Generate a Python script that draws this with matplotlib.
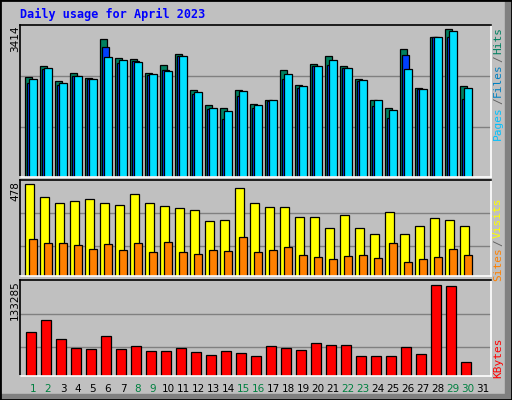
import matplotlib
matplotlib.use("Agg")
import matplotlib.pyplot as plt
from matplotlib.patches import Rectangle
import numpy as np

days = list(range(1, 31))
day_labels = [str(d) for d in range(1, 32)]
weekend = {1, 2, 8, 9, 15, 16, 22, 23, 29, 30}

# top panel values
hits = [2300, 2560, 2210, 2400, 2280, 3180, 2750, 2730, 2400, 2590, 2840, 2010, 1660, 1590, 2010, 1690,
        1780, 2470, 2120, 2610, 2790, 2560, 2260, 1780, 1590, 2960, 2060, 3220, 3414, 2090]
files = [2160, 2480, 2120, 2330, 2260, 3000, 2620, 2670, 2360, 2460, 2800, 1910, 1570, 1340, 1860, 1600,
         1750, 2270, 2050, 2570, 2590, 2520, 2220, 1640, 1360, 2820, 2030, 3220, 3240, 1800]
pages = [2260, 2520, 2170, 2330, 2250, 2760, 2690, 2660, 2380, 2450, 2790, 1960, 1590, 1520, 1990, 1660,
         1770, 2380, 2090, 2560, 2710, 2520, 2240, 1770, 1540, 2500, 2030, 3220, 3370, 2060]
visits = [478, 410, 379, 389, 400, 379, 368, 425, 379, 363, 353, 343, 286, 291, 457, 379,
          358, 358, 306, 306, 249, 317, 249, 218, 332, 218, 260, 301, 291, 260]
sites = [192, 171, 171, 161, 140, 166, 135, 171, 125, 176, 125, 114, 135, 130, 203, 125,
         135, 151, 109, 99, 88, 104, 109, 94, 171, 73, 88, 99, 140, 109]
kbytes = [63700, 81200, 53400, 40400, 38900, 57900, 38900, 43300, 35900, 35900, 40400, 34500, 30100, 35900,
          33000, 28600, 43300, 40400, 37400, 47700, 44800, 44800, 28600, 28600, 28600, 41800, 31600, 133285, 131800, 19800]

BG = "#C0C0C0"
W, H = 512, 400
fig = plt.figure(figsize=(W / 100, H / 100), dpi=100, facecolor=BG)

def px_axes(x0, y0, x1, y1):
    return fig.add_axes([x0 / W, 1 - y1 / H, (x1 - x0) / W, (y1 - y0) / H])

# frame / bevel
fig.patches.append(Rectangle((505 / W, 0), 7 / W, 1, transform=fig.transFigure, color="#808080", zorder=0))
fig.patches.append(Rectangle((0, 0), 1, 6 / H, transform=fig.transFigure, color="#808080", zorder=0))
fig.patches.append(Rectangle((0, 0), 1, 1, transform=fig.transFigure, fill=False, ec="black", lw=2, zorder=0))

d = np.array(days, dtype=float)
x0 = 1 - 5 / 15
xl = (x0, x0 + 471 / 15)

def style(ax, top, grids):
    ax.set_facecolor(BG)
    ax.set_xlim(*xl)
    ax.set_ylim(0, top)
    for g in grids:
        ax.axhline(g, color="#808080", lw=1, zorder=1)
    ax.set_xticks([]); ax.set_yticks([])
    for s in ("top", "left"):
        ax.spines[s].set_color("black")
    for s in ("bottom", "right"):
        ax.spines[s].set_color("white")
    for s in ax.spines.values():
        s.set_linewidth(1.2)

bkw = dict(align="edge", edgecolor="black", linewidth=0.9, zorder=2)

ax1 = px_axes(20, 25, 491, 177)
style(ax1, 3414 * 152 / 148, [3414 * 50 / 148, 3414 * 101 / 148])
ax1.bar(d, hits, width=7 / 15, color="#008060", **bkw)
ax1.bar(d + 2 / 15, files, width=7 / 15, color="#0040FF", **bkw)
ax1.bar(d + 4 / 15, pages, width=8 / 15, color="#00E0FF", **bkw)

ax2 = px_axes(20, 180, 491, 276)
style(ax2, 478 * 96 / 92, [478 * 30 / 92, 478 * 62.7 / 92])
ax2.bar(d + 0.3 / 15, visits, width=8.4 / 15, color="#FFFF00", **bkw)
ax2.bar(d + 3.7 / 15, sites, width=8 / 15, color="#FF8000", **bkw)

ax3 = px_axes(20, 280, 491, 376)
style(ax3, 133285 * 96 / 91.5, [133285 * 62.3 / 91.5, 133285 * 29.3 / 91.5])
ax3.bar(d + 1.3 / 15, kbytes, width=10 / 15, color="#FF0000", **bkw)

# x labels
for i, lab in enumerate(day_labels):
    xd = i + 1 + 8 / 15
    xp = 20 + (xd - x0) * 15
    fig.text(xp / W, 1 - 389 / H, lab, ha="center", va="center", fontsize=7.5,
             color="#008040" if (i + 1) in weekend else "black", family="DejaVu Sans")

# y max labels
for txt, yc in (("3414", 39), ("478", 191), ("133285", 300)):
    fig.text(15 / W, 1 - yc / H, txt, rotation=90, ha="center", va="center", fontsize=7.5, family="DejaVu Sans")

fig.text(20 / W, 1 - 14 / H, "Daily usage for April 2023", ha="left", va="center",
         fontsize=8.5, fontweight="bold", color="#0000FF", family="DejaVu Sans Mono")

# right side legends
def vlabel(txt, yc, color):
    fig.text(498 / W, 1 - yc / H, txt, rotation=90, ha="center", va="center", fontsize=8,
             color=color, family="DejaVu Sans Mono")

vlabel("Pages", 123, "#00C0FF")
vlabel("/", 101, "#606060")
vlabel("Files", 80, "#0080C0")
vlabel("/", 59, "#606060")
vlabel("Hits", 41, "#008060")
vlabel("Sites", 264, "#FF8000")
vlabel("/", 243, "#606060")
vlabel("Visits", 218, "#FFFF00")
vlabel("KBytes", 358, "#FF0000")

fig.savefig("out.png", dpi=100, facecolor=BG)
